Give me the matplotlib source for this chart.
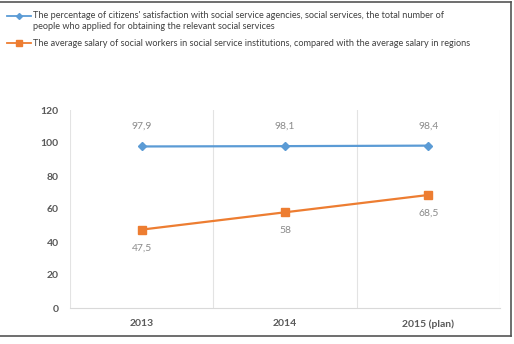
import matplotlib
matplotlib.use("Agg")
import matplotlib.pyplot as plt
from matplotlib.lines import Line2D

# Data
years = ["2013", "2014", "2015 (plan)"]
satisfaction = [97.9, 98.1, 98.4]
salary = [47.5, 58, 68.5]
sat_labels = ["97,9", "98,1", "98,4"]
sal_labels = ["47,5", "58", "68,5"]
legend_names = [
    "The percentage of citizens' satisfaction with social service agencies, social services, the total number of\npeople who applied for obtaining the relevant social services",
    "The average salary of social workers in social service institutions, compared with the average salary in regions",
]

blue = "#5b9bd5"
orange = "#ed7d31"
plt.rcParams["font.family"] = ["Lato", "DejaVu Sans"]

W, H = 514, 344
fig = plt.figure(figsize=(W / 100, H / 100), dpi=100)
ax = fig.add_axes([70 / W, 1 - 308 / H, 430 / W, 198 / H])

x = list(range(len(years)))
ax.plot(x, satisfaction, color=blue, lw=1.6, marker="D", ms=4.5)
ax.plot(x, salary, color=orange, lw=1.6, marker="s", ms=5.8)

for i in x:
    ax.annotate(sat_labels[i], (i, satisfaction[i]), xytext=(0, 11), textcoords="offset points",
                ha="center", va="bottom", fontsize=7.5, color="#8a8a8a")
    ax.annotate(sal_labels[i], (i, salary[i]), xytext=(0, -10), textcoords="offset points",
                ha="center", va="top", fontsize=7.5, color="#8a8a8a")

ax.set_xlim(-0.5, 2.5)
ax.set_ylim(0, 120)
ax.set_yticks(range(0, 121, 20))
ax.set_xticks(x)
ax.set_xticklabels(years)
for v in [-0.5, 0.5, 1.5, 2.5]:
    ax.axvline(v, color="#e3e3e3", lw=0.8, zorder=0)
for s in ["top", "right", "left"]:
    ax.spines[s].set_visible(False)
ax.spines["bottom"].set_color("#d9d9d9")
ax.tick_params(length=0, labelsize=7.5, colors="#595959", pad=8)
for t in ax.get_xticklabels() + ax.get_yticklabels():
    t.set_fontweight("bold")

# legend drawn in figure coords
def fx(px):
    return px / W

def fy(py):
    return 1 - py / H

fig.add_artist(Line2D([fx(7), fx(31)], [fy(16), fy(16)], color=blue, lw=1.3, transform=fig.transFigure))
fig.add_artist(Line2D([fx(19)], [fy(16)], color=blue, marker="D", ms=3, transform=fig.transFigure))
fig.add_artist(Line2D([fx(7), fx(31)], [fy(43), fy(43)], color=orange, lw=1.3, transform=fig.transFigure))
fig.add_artist(Line2D([fx(19)], [fy(43)], color=orange, marker="s", ms=4, transform=fig.transFigure))
fig.text(fx(33), fy(10.5), legend_names[0], fontsize=6.55, color="#404040", va="top", linespacing=1.4)
fig.text(fx(33), fy(43), legend_names[1], fontsize=6.55, color="#404040", va="center")

# frame (top, right, bottom)
fc = "#555555"
fig.add_artist(Line2D([0, fx(511)], [fy(2), fy(2)], color=fc, lw=1.2, transform=fig.transFigure))
fig.add_artist(Line2D([fx(511), fx(511)], [fy(2), fy(336)], color=fc, lw=1.2, transform=fig.transFigure))
fig.add_artist(Line2D([0, fx(511)], [fy(336), fy(336)], color=fc, lw=1.2, transform=fig.transFigure))

fig.savefig("out.png", dpi=100)
